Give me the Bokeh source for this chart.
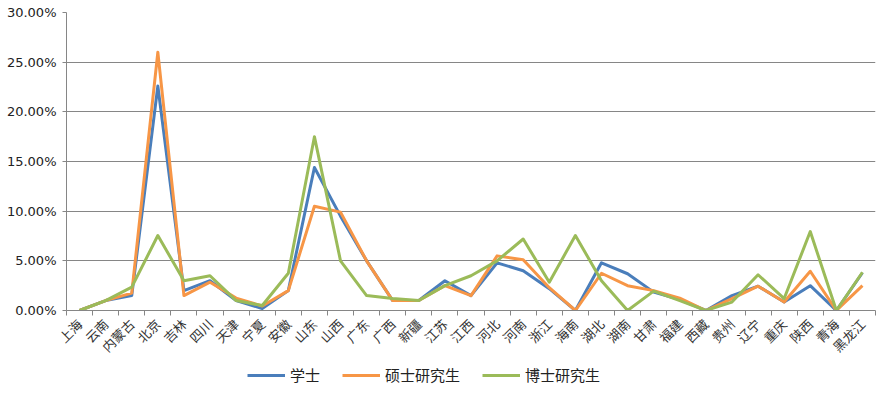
import math
import numpy as np
from bokeh.plotting import figure
from bokeh.layouts import column
from bokeh.models import (Range1d, FixedTicker, PrintfTickFormatter, Legend, LegendItem)
from bokeh.embed import file_html
from bokeh.resources import INLINE

provinces = ["上海", "云南", "内蒙古", "北京", "吉林", "四川", "天津", "宁夏", "安徽", "山东",
             "山西", "广东", "广西", "新疆", "江苏", "江西", "河北", "河南", "浙江", "海南",
             "湖北", "湖南", "甘肃", "福建", "西藏", "贵州", "辽宁", "重庆", "陕西", "青海", "黑龙江"]

bachelor = [0.0, 1.0, 1.5, 22.6, 2.0, 3.0, 1.0, 0.2, 2.0, 14.4,
            9.5, 5.0, 1.0, 1.0, 3.0, 1.5, 4.8, 4.0, 2.2, 0.0,
            4.8, 3.7, 1.85, 1.1, 0.0, 1.5, 2.45, 0.85, 2.5, 0.0, 3.8]
master = [0.0, 1.0, 1.75, 26.0, 1.5, 2.85, 1.25, 0.45, 2.0, 10.5,
          9.9, 5.0, 1.0, 1.0, 2.5, 1.5, 5.5, 5.1, 2.3, 0.0,
          3.75, 2.5, 2.0, 1.25, 0.0, 1.2, 2.45, 0.85, 3.95, 0.0, 2.5]
doctor = [0.0, 1.0, 2.35, 7.55, 3.0, 3.5, 1.0, 0.5, 3.75, 17.5,
          5.0, 1.5, 1.2, 1.0, 2.5, 3.5, 5.0, 7.2, 2.85, 7.55,
          3.0, 0.0, 1.95, 1.0, 0.0, 0.85, 3.6, 1.2, 7.95, 0.0, 3.85]

series_names = ["学士", "硕士研究生", "博士研究生"]
colors = ["#4A7EBB", "#F79646", "#9BBB59"]
y_ticks = [0, 5, 10, 15, 20, 25, 30]

n = len(provinces)
xs = list(np.arange(n) + 0.5)
series = [bachelor, master, doctor]

p = figure(width=881, height=365, output_backend="svg", toolbar_location=None,
           x_range=Range1d(0, n), y_range=Range1d(0, 30),
           min_border_left=66, min_border_right=6, min_border_top=12, min_border_bottom=55)
p.outline_line_color = None
p.background_fill_color = "white"
p.border_fill_color = "white"

for vals, c in zip(series, colors):
    p.line(xs, vals, line_color=c, line_width=3, line_join="round")

p.xaxis.ticker = FixedTicker(ticks=xs, minor_ticks=list(range(n + 1)))
p.xaxis.major_label_overrides = {float(x): name for x, name in zip(xs, provinces)}
p.xaxis.major_label_orientation = math.pi / 4
p.xaxis.major_tick_out = 0
p.xaxis.major_tick_in = 0
p.xaxis.minor_tick_out = 5
p.xaxis.minor_tick_in = 0
p.xaxis.minor_tick_line_color = "#868686"
p.xaxis.axis_line_color = "#868686"
p.xaxis.major_label_text_font = "Noto Sans CJK SC"
p.xaxis.major_label_text_font_size = "13px"
p.xaxis.major_label_text_color = "#333333"
p.xaxis.major_label_standoff = 6

p.yaxis.ticker = FixedTicker(ticks=y_ticks)
p.yaxis.formatter = PrintfTickFormatter(format="%.2f%%")
p.yaxis.major_tick_out = 4
p.yaxis.major_tick_in = 0
p.yaxis.minor_tick_line_color = None
p.yaxis.major_tick_line_color = "#868686"
p.yaxis.axis_line_color = "#868686"
p.yaxis.major_label_text_font = "DejaVu Sans"
p.yaxis.major_label_text_font_size = "13px"
p.yaxis.major_label_text_color = "#222222"
p.yaxis.major_label_standoff = 6

p.xgrid.grid_line_color = None
p.ygrid.ticker = FixedTicker(ticks=y_ticks)
p.ygrid.grid_line_color = "#868686"
p.ygrid.grid_line_width = 1

# legend strip (series drawn out of view; only the legend is visible)
p2 = figure(width=881, height=28, output_backend="svg", toolbar_location=None,
            x_range=Range1d(0, n), y_range=Range1d(100, 101),
            min_border_left=0, min_border_right=0, min_border_top=0, min_border_bottom=0)
p2.axis.visible = False
p2.grid.visible = False
p2.outline_line_color = None
p2.border_fill_color = "white"
leg_r = [p2.line(xs, vals, line_color=c, line_width=3) for vals, c in zip(series, colors)]
legend = Legend(items=[LegendItem(label=nm, renderers=[r]) for nm, r in zip(series_names, leg_r)],
                orientation="horizontal", location=(181, 8))
legend.border_line_color = None
legend.background_fill_alpha = 0
legend.label_text_font = "Noto Sans CJK SC"
legend.label_text_font_size = "15px"
legend.label_text_color = "#222222"
legend.glyph_width = 38
legend.label_standoff = 5
legend.spacing = 22
legend.padding = 0
legend.margin = 0
p2.add_layout(legend, "center")

open("out.html", "w").write(file_html(column(p, p2, spacing=0), INLINE))
